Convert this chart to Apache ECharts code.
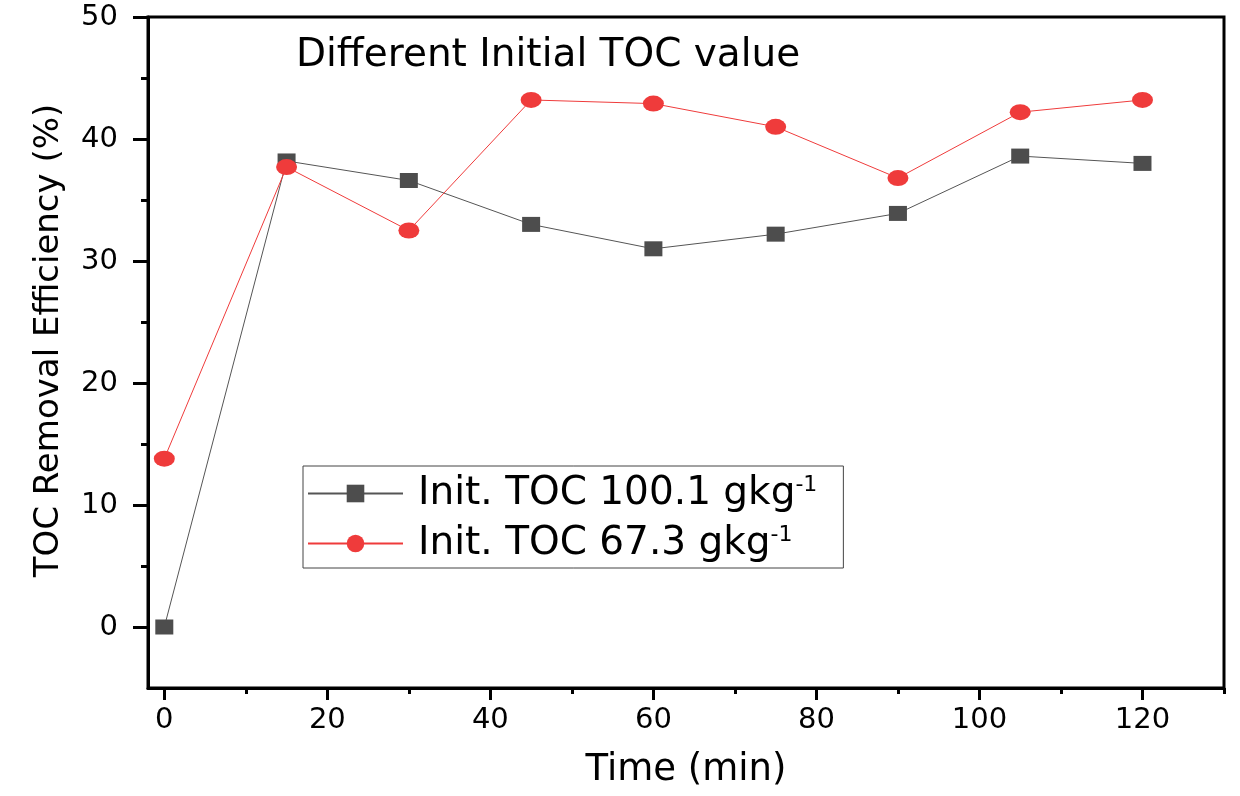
<!DOCTYPE html>
<html>
<head>
<meta charset="utf-8">
<script src="https://cdn.jsdelivr.net/npm/echarts@6/dist/echarts.min.js"></script>
<style>
  html, body { margin: 0; padding: 0; background: #fff; }
  #main { width: 1240px; height: 796px; }
</style>
</head>
<body>
<div id="main"></div>
<script>
// time points (min)
var times = [0, 15, 30, 45, 60, 75, 90, 105, 120];
// TOC removal efficiency (%)
var toc100 = [0, 38.2, 36.6, 33.0, 31.0, 32.2, 33.9, 38.6, 38.0];
var toc67 = [13.8, 37.7, 32.5, 43.2, 42.9, 41.0, 36.8, 42.2, 43.2];
var seriesNames = ['Init. TOC 100.1 gkg', 'Init. TOC 67.3 gkg'];
var xMajor = [0, 20, 40, 60, 80, 100, 120];
var xMinor = [10, 30, 50, 70, 90, 110, 130];
var yMajor = [0, 10, 20, 30, 40, 50];
var yMinor = [5, 15, 25, 35, 45];

var FONT = 'DejaVu Sans';
var myChart = echarts.init(document.getElementById('main'));

function pairs(ys) {
    var out = [];
    for (var i = 0; i < times.length; i++) {
        out.push([times[i], ys[i]]);
    }
    return out;
}

var axisLine = { show: true, onZero: false, lineStyle: { color: '#000', width: 3 } };

myChart.setOption({
    animation: false,
    title: {
        text: 'Different Initial TOC value',
        left: 291,
        top: 31,
        textStyle: { fontFamily: FONT, fontSize: 39, fontWeight: 'normal', color: '#000' }
    },
    legend: {
        orient: 'vertical',
        left: 303,
        top: 466,
        itemWidth: 95,
        itemHeight: 22,
        itemGap: 11,
        padding: [8, 26, 5, 4],
        borderColor: '#444',
        borderWidth: 1,
        data: seriesNames,
        formatter: function (name) { return name + '{sup|-1}'; },
        textStyle: {
            fontFamily: FONT, fontSize: 39, color: '#000', lineHeight: 38,
            padding: [0, 0, 0, 10],
            rich: {
                sup: { fontFamily: FONT, fontSize: 22, verticalAlign: 'top', lineHeight: 38, padding: [0, 0, 14, 0] }
            }
        }
    },
    grid: {
        left: 148, right: 16, top: 17, bottom: 108,
        show: true, borderColor: '#000', borderWidth: 3, backgroundColor: 'transparent'
    },
    xAxis: [{
        type: 'value', min: -2, max: 130,
        name: 'Time (min)', nameLocation: 'middle', nameGap: 64,
        nameTextStyle: { fontFamily: FONT, fontSize: 37, color: '#000' },
        axisLine: axisLine,
        axisTick: { show: true, length: 12, customValues: xMajor, lineStyle: { color: '#000', width: 3 } },
        axisLabel: { customValues: xMajor, margin: 18, fontFamily: FONT, fontSize: 29, color: '#000' },
        splitLine: { show: false }
    }, {
        type: 'value', min: -2, max: 130, position: 'bottom',
        axisLine: { show: false, onZero: false },
        axisTick: { show: true, length: 6, customValues: xMinor, lineStyle: { color: '#000', width: 3 } },
        axisLabel: { show: false },
        splitLine: { show: false }
    }],
    yAxis: [{
        type: 'value', min: -5, max: 50,
        name: 'TOC Removal Efficiency (%)', nameLocation: 'middle', nameGap: 82, nameRotate: 90,
        nameTextStyle: { fontFamily: FONT, fontSize: 34, color: '#000', padding: [0, 0, 0, 24] },
        axisLine: axisLine,
        axisTick: { show: true, length: 15, customValues: yMajor, lineStyle: { color: '#000', width: 3 } },
        axisLabel: { customValues: yMajor, margin: 30, fontFamily: FONT, fontSize: 29, color: '#000' },
        splitLine: { show: false }
    }, {
        type: 'value', min: -5, max: 50, position: 'left',
        axisLine: { show: false, onZero: false },
        axisTick: { show: true, length: 7, customValues: yMinor, lineStyle: { color: '#000', width: 3 } },
        axisLabel: { show: false },
        splitLine: { show: false }
    }],
    series: [{
        name: seriesNames[0],
        type: 'line',
        data: pairs(toc100),
        symbol: 'rect',
        symbolSize: [18, 15],
        itemStyle: { color: '#4d4d4d' },
        lineStyle: { color: '#555', width: 1 }
    }, {
        name: seriesNames[1],
        type: 'line',
        data: pairs(toc67),
        symbol: 'circle',
        symbolSize: [21, 16],
        itemStyle: { color: '#ef3b3b' },
        lineStyle: { color: '#ef3b3b', width: 1 }
    }]
});
</script>
</body>
</html>
